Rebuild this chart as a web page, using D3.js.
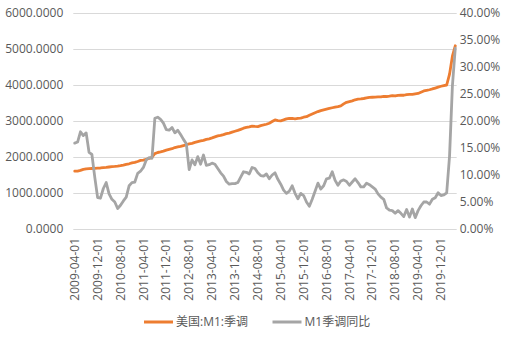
<!DOCTYPE html>
<html>
<head>
<meta charset="utf-8">
<script src="https://cdn.jsdelivr.net/npm/d3@7"></script>
<style>
  body { margin: 0; background: #ffffff; }
  text { font-family: "Open Sans", "Noto Sans CJK SC", sans-serif; fill: #595959; }
</style>
</head>
<body>
<svg id="chart" width="515" height="337"></svg>
<script>
// Monthly categories, April 2009 to May 2020
const firstMonth = "2009-04-01";
const lastMonth = "2020-05-01";

// US M1, seasonally adjusted (billion USD)
const m1Level = [
  1605, 1610, 1630, 1655, 1668, 1675, 1680, 1686, 1690,
  1695, 1702, 1710, 1722, 1730, 1738, 1748, 1760, 1775, 1795, 1812, 1835,
  1850, 1875, 1905, 1915, 1938, 1960, 1995, 2095, 2125, 2140, 2162, 2190,
  2210, 2230, 2262, 2280, 2295, 2318, 2340, 2362, 2380, 2405, 2425, 2445,
  2462, 2490, 2505, 2530, 2558, 2585, 2600, 2622, 2648, 2665, 2690, 2715,
  2738, 2768, 2800, 2822, 2838, 2858, 2850, 2845, 2872, 2890, 2910, 2938,
  2985, 3030, 3010, 3005, 3030, 3058, 3075, 3070, 3060, 3075, 3080, 3105,
  3120, 3160, 3195, 3230, 3262, 3290, 3310, 3330, 3350, 3368, 3385, 3398,
  3420, 3475, 3520, 3540, 3560, 3590, 3605, 3612, 3625, 3640, 3655, 3660,
  3662, 3670, 3668, 3685, 3680, 3690, 3705, 3695, 3712, 3720, 3715, 3735,
  3742, 3738, 3752, 3765, 3800, 3835, 3852, 3868, 3890, 3915, 3940, 3965,
  3985, 4000, 4300, 4800, 5090
];

// M1 year-over-year growth (%)
const m1Yoy = [
  15.9, 16.1, 18.0, 17.3, 17.8, 14.2, 13.8, 9.6, 5.8,
  5.7, 7.5, 8.6, 6.5, 5.5, 5.0, 3.8, 4.4, 5.2, 5.9, 8.0, 8.6,
  8.7, 10.3, 10.7, 11.4, 12.8, 13.2, 13.1, 20.5, 20.7, 20.3, 19.6, 18.4,
  18.3, 18.8, 17.8, 18.3, 17.5, 16.6, 15.8, 11.0, 12.8, 11.9, 13.4, 12.0,
  13.7, 11.8, 11.9, 12.2, 12.0, 11.2, 10.4, 9.8, 8.8, 8.3, 8.4, 8.4,
  8.6, 9.6, 10.6, 10.5, 10.2, 11.4, 11.2, 10.4, 9.9, 9.8, 10.2, 9.3,
  10.0, 10.4, 9.2, 8.3, 7.2, 6.6, 7.0, 8.0, 6.6, 5.6, 6.6, 6.2,
  5.0, 4.2, 5.5, 7.0, 8.5, 7.4, 8.0, 9.3, 9.4, 10.6, 9.0, 8.1,
  8.9, 9.1, 8.8, 8.1, 8.7, 9.3, 8.6, 7.8, 7.8, 8.5, 8.2, 7.8,
  7.4, 6.5, 5.9, 5.5, 3.9, 3.5, 3.4, 2.9, 3.4, 2.9, 2.3, 3.6,
  2.2, 3.7, 2.1, 3.4, 4.3, 5.0, 5.0, 4.6, 5.5, 5.8, 6.7, 6.2,
  6.3, 6.7, 13.5, 26.5, 33.5
];

// Labelled categories on the x axis
const tickLabels = [
  "2009-04-01", "2009-12-01", "2010-08-01", "2011-04-01", "2011-12-01",
  "2012-08-01", "2013-04-01", "2013-12-01", "2014-08-01", "2015-04-01",
  "2015-12-01", "2016-08-01", "2017-04-01", "2017-12-01", "2018-08-01",
  "2019-04-01", "2019-12-01"
];

const leftTicks = [0, 1000, 2000, 3000, 4000, 5000, 6000];
const rightTicks = [0, 5, 10, 15, 20, 25, 30, 35, 40];

const seriesNames = ["美国:M1:季调", "M1季调同比"];
const seriesColors = ["#ED7D31", "#A5A5A5"];

const fmtDay = d3.utcFormat("%Y-%m-%d");
const months = d3.utcMonth.range(new Date(firstMonth), d3.utcMonth.offset(new Date(lastMonth), 1)).map(fmtDay);

const svg = d3.select("#chart");
const plot = { left: 73.3, right: 456.7, top: 13, bottom: 229 };
const fontStack = "'Open Sans', 'Noto Sans CJK SC', sans-serif";

const x = d3.scaleBand().domain(months).range([plot.left, plot.right]).padding(0);
const cx = d => x(d) + x.bandwidth() / 2;
const yL = d3.scaleLinear().domain([0, 6000]).range([plot.bottom, plot.top]);
const yR = d3.scaleLinear().domain([0, 40]).range([plot.bottom, plot.top]);

// Horizontal gridlines
svg.append("g")
  .selectAll("line")
  .data(leftTicks)
  .join("line")
  .attr("x1", plot.left).attr("x2", plot.right)
  .attr("y1", d => Math.round(yL(d)) + 0.5).attr("y2", d => Math.round(yL(d)) + 0.5)
  .attr("stroke", "#D9D9D9").attr("stroke-width", 1);

// Left axis labels
const leftAxis = d3.axisLeft(yL).tickValues(leftTicks).tickSize(0).tickPadding(10)
  .tickFormat(d => d3.format(".4f")(d));
svg.append("g").attr("transform", `translate(${plot.left},0)`).call(leftAxis)
  .call(g => g.select(".domain").remove())
  .selectAll("text").attr("font-size", 12).attr("fill", "#595959")
  .style("font-family", fontStack);

// Right axis labels
const rightAxis = d3.axisRight(yR).tickValues(rightTicks).tickSize(0).tickPadding(3)
  .tickFormat(d => d3.format(".2f")(d) + "%");
svg.append("g").attr("transform", `translate(${plot.right},0)`).call(rightAxis)
  .call(g => g.select(".domain").remove())
  .selectAll("text").attr("font-size", 12).attr("fill", "#595959")
  .style("font-family", fontStack);

// Bottom axis with rotated date labels
const bottomAxis = d3.axisBottom(x).tickValues(tickLabels).tickSize(0).tickPadding(0);
svg.append("g").attr("transform", `translate(0,${plot.bottom})`).call(bottomAxis)
  .call(g => g.select(".domain").remove())
  .selectAll("text")
  .attr("font-size", 12).attr("fill", "#595959")
  .style("font-family", fontStack)
  .attr("text-anchor", "end")
  .attr("dy", "0.35em")
  .attr("transform", "translate(0,9) rotate(-90)")
  .attr("x", 0).attr("y", 0);

// Series lines
const levelLine = d3.line().x((d, i) => cx(months[i])).y(d => yL(d));
const yoyLine = d3.line().x((d, i) => cx(months[i])).y(d => yR(d));

svg.append("path").datum(m1Level)
  .attr("d", levelLine)
  .attr("fill", "none").attr("stroke", seriesColors[0])
  .attr("stroke-width", 2.8).attr("stroke-linejoin", "round").attr("stroke-linecap", "round");

svg.append("path").datum(m1Yoy)
  .attr("d", yoyLine)
  .attr("fill", "none").attr("stroke", seriesColors[1])
  .attr("stroke-width", 2.8).attr("stroke-linejoin", "round").attr("stroke-linecap", "round");

// Legend
const legendItems = [
  { name: seriesNames[0], color: seriesColors[0], x: 144 },
  { name: seriesNames[1], color: seriesColors[1], x: 272.5 }
];
const legend = svg.append("g").attr("transform", "translate(0,322)");
const li = legend.selectAll("g").data(legendItems).join("g")
  .attr("transform", d => `translate(${d.x},0)`);
li.append("line").attr("x1", 0).attr("x2", 29).attr("y1", 0).attr("y2", 0)
  .attr("stroke", d => d.color).attr("stroke-width", 3);
li.append("text").attr("x", 32).attr("y", 0).attr("dy", "0.35em")
  .attr("font-size", 12).style("font-family", fontStack).text(d => d.name);
</script>
</body>
</html>
